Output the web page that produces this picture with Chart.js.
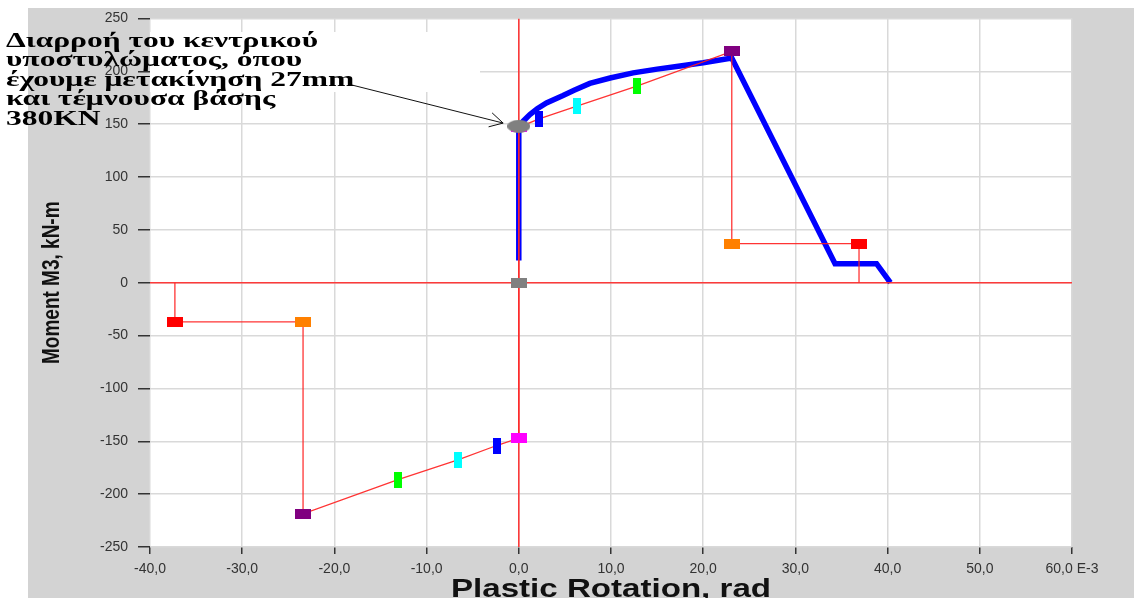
<!DOCTYPE html>
<html>
<head>
<meta charset="utf-8">
<script src="https://cdn.jsdelivr.net/npm/chart.js@4.4.1/dist/chart.umd.min.js"></script>
<style>
  html, body { margin: 0; padding: 0; background: #fff; }
  #wrap { width: 1134px; height: 598px; }
</style>
</head>
<body>
<div id="wrap"><canvas id="hingeChart" width="1134" height="598"></canvas></div>
<script>
// moment-rotation response of the hinge (rotation in E-3 rad, moment in kN-m)
const curveRot = [0, 0, 0.5, 1.2, 2.0, 3.0, 4.8, 6.0, 7.7, 9.9, 12.4, 15.0, 17.5, 20.0, 23.1, 34.3, 38.8, 40.3];
const curveMom = [21, 148, 153, 159, 164.5, 170, 177, 182, 188.5, 193.6, 198.5, 202, 205, 208, 212.5, 18, 18, 0];

// backbone points A, B, IO, LS, CP, C, D, E for each sign
const hingeStates = ['A', 'B', 'IO', 'LS', 'CP', 'C', 'D', 'E'];
const posRot = [0, 0, 2.2, 6.3, 12.8, 23.1, 23.1, 36.9];
const posMom = [0, 147, 155, 167, 186, 218.7, 37, 37];
const negRot = [0, 0, -2.4, -6.6, -13.1, -23.4, -23.4, -37.3];
const negMom = [0, -147, -154, -167.5, -186.3, -218.7, -37, -37];

// current state of the hinge (yield of the central column)
const yieldRot = [0];
const yieldMom = [148];

const xTicks = [-40, -30, -20, -10, 0, 10, 20, 30, 40, 50, 60];
const xTickLabels = ['-40,0', '-30,0', '-20,0', '-10,0', '0,0', '10,0', '20,0', '30,0', '40,0', '50,0', '60,0 E-3'];
const yTicks = [-250, -200, -150, -100, -50, 0, 50, 100, 150, 200, 250];

const xTitle = 'Plastic Rotation, rad';
const yTitle = 'Moment M3, kN-m';
const noteLines = [
  'Διαρροή του κεντρικού',
  'υποστυλώματος, όπου',
  'έχουμε μετακίνηση 27mm',
  'και τέμνουσα βάσης',
  '380KN'
];
const arrowFrom = [-18.1, 187];
const arrowTo = [-1.7, 151];

const stateColors = {
  A: '#808080', B: '#ff00ff', IO: '#0000ff', LS: '#00ffff',
  CP: '#00ff00', C: '#800080', D: '#ff8000', E: '#ff0000'
};
const narrowStates = ['IO', 'LS', 'CP'];

function makeMark(color, w, h, round) {
  const c = document.createElement('canvas');
  c.width = w; c.height = h;
  const g = c.getContext('2d');
  g.fillStyle = color;
  if (round) {
    g.beginPath();
    g.ellipse(w / 2, h / 2, w / 2, h / 2, 0, 0, Math.PI * 2);
    g.fill();
  } else {
    g.fillRect(0, 0, w, h);
  }
  return c;
}

const stateMarks = {};
hingeStates.forEach(s => {
  stateMarks[s] = narrowStates.includes(s)
    ? makeMark(stateColors[s], 8, 16)
    : makeMark(stateColors[s], 16, 10);
});

const toPts = (xs, ys) => xs.map((x, i) => ({ x: x, y: ys[i] }));

// backbone path: E- ... A ... E+ with the drops to zero at both ends
const backbone = [{ x: negRot[7], y: 0 }];
for (let i = 7; i >= 1; i--) backbone.push({ x: negRot[i], y: negMom[i] });
backbone.push({ x: posRot[0], y: posMom[0] });
for (let i = 1; i <= 7; i++) backbone.push({ x: posRot[i], y: posMom[i] });
backbone.push({ x: posRot[7], y: 0 });

const markPts = [];
const markStyles = [];
hingeStates.forEach((s, i) => {
  markPts.push({ x: posRot[i], y: posMom[i] });
  markStyles.push(stateMarks[s]);
  if (i > 0) {
    markPts.push({ x: negRot[i], y: negMom[i] });
    markStyles.push(stateMarks[s]);
  }
});

// draw text squeezed/stretched to a given width
function fitText(ctx, text, x, y, width) {
  const sx = width / ctx.measureText(text).width;
  ctx.save();
  ctx.translate(x, y);
  ctx.scale(sx, 1);
  ctx.fillText(text, 0, 0);
  ctx.restore();
}

const frame = {
  id: 'frame',
  beforeDraw(chart) {
    const { ctx, chartArea: a } = chart;
    ctx.save();
    ctx.fillStyle = '#ffffff';
    ctx.fillRect(0, 0, chart.width, chart.height);
    ctx.fillStyle = '#d3d3d3';
    ctx.fillRect(28, 8, chart.width - 28, chart.height - 8);
    ctx.fillStyle = '#ffffff';
    ctx.fillRect(a.left, a.top, a.right - a.left, a.bottom - a.top);
    ctx.restore();
  },
  beforeDatasetsDraw(chart) {
    // white backing of the note inside the plot
    const { ctx, chartArea: a } = chart;
    ctx.save();
    ctx.fillStyle = '#ffffff';
    ctx.fillRect(a.left, 32, 330, 60);
    ctx.restore();
  },
  afterDraw(chart) {
    const { ctx, chartArea: a } = chart;
    const xs = chart.scales.x, ys = chart.scales.y;
    ctx.save();

    // axis titles
    ctx.fillStyle = '#111';
    ctx.font = 'bold 26px "Liberation Sans", Arial, sans-serif';
    ctx.textAlign = 'left';
    ctx.textBaseline = 'alphabetic';
    const cx = (a.left + a.right) / 2;
    fitText(ctx, xTitle, cx - 160, 597, 320);

    ctx.save();
    ctx.font = 'bold 19px "Liberation Sans", Arial, sans-serif';
    ctx.textAlign = 'center';
    ctx.textBaseline = 'middle';
    ctx.translate(52, (a.top + a.bottom) / 2);
    ctx.rotate(-Math.PI / 2);
    ctx.scale(1, 1.3);
    ctx.fillText(yTitle, 0, 0);
    ctx.restore();

    // arrow to the yield point
    const x1 = xs.getPixelForValue(arrowFrom[0]), y1 = ys.getPixelForValue(arrowFrom[1]);
    const x2 = xs.getPixelForValue(arrowTo[0]), y2 = ys.getPixelForValue(arrowTo[1]);
    ctx.strokeStyle = '#111';
    ctx.lineWidth = 1;
    ctx.beginPath();
    ctx.moveTo(x1, y1);
    ctx.lineTo(x2, y2);
    const ang = Math.atan2(y2 - y1, x2 - x1);
    [0.5, -0.5].forEach(d => {
      ctx.moveTo(x2, y2);
      ctx.lineTo(x2 - 15 * Math.cos(ang + d), y2 - 15 * Math.sin(ang + d));
    });
    ctx.stroke();

    // note text
    ctx.font = 'bold 22px "Liberation Serif", "Times New Roman", serif';
    ctx.fillStyle = '#000';
    ctx.textAlign = 'left';
    ctx.textBaseline = 'alphabetic';
    const sx = 312 / ctx.measureText(noteLines[0]).width;
    noteLines.forEach((t, i) => {
      ctx.save();
      ctx.translate(6, 46.5 + i * 19.5);
      ctx.scale(sx, 1);
      ctx.fillText(t, 0, 0);
      ctx.restore();
    });
    ctx.restore();
  }
};

new Chart(document.getElementById('hingeChart'), {
  type: 'scatter',
  data: {
    datasets: [
      {
        data: toPts(yieldRot, yieldMom),
        pointStyle: makeMark('#808080', 23, 13, true),
        pointRadius: 10,
        showLine: false
      },
      {
        data: markPts,
        pointStyle: markStyles,
        pointRadius: 8,
        showLine: false
      },
      {
        data: [{ x: 0, y: -250 }, { x: 0, y: 250 }],
        showLine: true,
        borderColor: 'rgba(255,40,40,0.9)',
        borderWidth: 1.6,
        pointRadius: 0
      },
      {
        data: [{ x: -40, y: 0 }, { x: 60, y: 0 }],
        showLine: true,
        borderColor: 'rgba(255,40,40,0.9)',
        borderWidth: 1.6,
        pointRadius: 0
      },
      {
        data: backbone,
        showLine: true,
        borderColor: 'rgba(255,30,30,0.9)',
        borderWidth: 1.3,
        pointRadius: 0
      },
      {
        data: toPts(curveRot, curveMom),
        showLine: true,
        borderColor: '#0000ff',
        borderWidth: 5.5,
        pointRadius: 0,
        tension: 0
      }
    ]
  },
  options: {
    responsive: false,
    animation: false,
    layout: { padding: { left: 0, top: 18, right: 62, bottom: 0 } },
    plugins: {
      legend: { display: false },
      tooltip: { enabled: false }
    },
    scales: {
      x: {
        type: 'linear',
        min: -40,
        max: 60,
        afterBuildTicks: s => { s.ticks = xTicks.map(v => ({ value: v })); },
        afterFit: s => { s.height = 51; },
        ticks: {
          callback: (v, i) => xTickLabels[i],
          color: '#333',
          font: { family: 'Liberation Sans, Arial, sans-serif', size: 14 },
          padding: 7,
          maxRotation: 0
        },
        grid: { color: '#d9d9d9', lineWidth: 1.5, tickColor: '#333', tickLength: 7, tickWidth: 1.5 },
        border: { display: false }
      },
      y: {
        type: 'linear',
        min: -250,
        max: 250,
        afterBuildTicks: s => { s.ticks = yTicks.map(v => ({ value: v })); },
        afterFit: s => { s.width = 150; },
        ticks: {
          callback: v => String(v),
          color: '#333',
          font: { family: 'Liberation Sans, Arial, sans-serif', size: 14 },
          padding: 10
        },
        grid: { color: '#d9d9d9', lineWidth: 1.5, tickColor: '#333', tickLength: 12, tickWidth: 1.5 },
        border: { display: false }
      }
    }
  },
  plugins: [frame]
});
</script>
</body>
</html>
